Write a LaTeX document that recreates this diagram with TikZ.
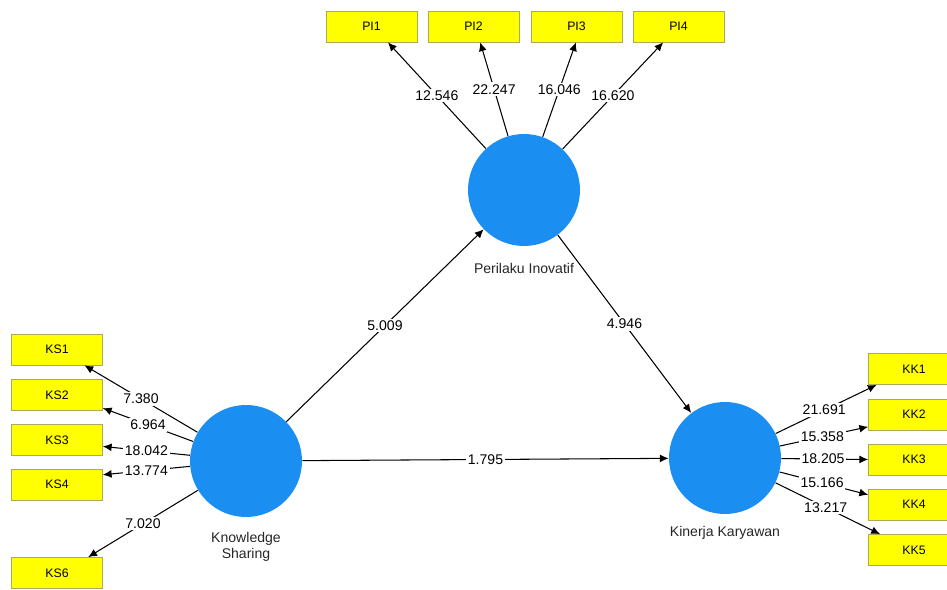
\documentclass[tikz,border=0pt]{standalone}
\usepackage{fontspec}
\setmainfont{Liberation Sans}
\usetikzlibrary{arrows.meta}
\definecolor{lvblue}{RGB}{27,142,242}
\definecolor{indyellow}{RGB}{255,255,0}
\definecolor{indline}{RGB}{170,170,90}

\begin{document}
\begin{tikzpicture}[x=0.02cm, y=-0.02cm,
    lv/.style   = {circle, fill=lvblue, minimum size=2.24cm, inner sep=0pt},
    ind/.style  = {draw=indline, fill=indyellow, minimum width=1.82cm, minimum height=0.62cm, inner sep=0pt, font=\fontsize{7}{8}\selectfont},
    val/.style  = {fill=white, inner sep=1pt, font=\fontsize{8}{9}\selectfont},
    lbl/.style  = {align=center, font=\fontsize{8}{9.5}\selectfont, text=black!85},
    link/.style = {black, line width=0.6pt, -{Latex[length=5pt,width=4.5pt]}}]
    \useasboundingbox (0,0) rectangle (947,590);
    \clip (0,0) rectangle (947,590);
    %
    \node[lv] (pi) at (524,190) {};
    \node[lv] (ks) at (246,461) {};
    \node[lv] (kk) at (725,458) {};
    \node[lbl] at (524,268) {Perilaku Inovatif};
    \node[lbl] at (246,547) {Knowledge\\Sharing};
    \node[lbl] at (725,533) {Kinerja Karyawan};
    %
    \foreach \i/\x in {1/371.5, 2/473.5, 3/576.5, 4/678.5}
      \node[ind] (pi\i) at (\x,26.5) {PI\i};
    \foreach \i/\y in {1/349.5, 2/395, 3/440, 4/484.5, 6/573}
      \node[ind] (ks\i) at (57,\y) {KS\i};
    \foreach \i/\y in {1/369, 2/414.5, 3/459.5, 4/504.5, 5/550}
      \node[ind] (kk\i) at (914,\y) {KK\i};
    %
    \foreach \i/\a/\v in {1/316/12.546, 2/293/22.247, 3/268/16.046, 4/226/16.620}
      \draw[link] (pi) -- (pi\i.\a) node[val, midway] {\v};
    \foreach \i/\a/\v in {1/330/7.380, 2/344/6.964, 3/352/18.042, 4/12/13.774, 6/27/7.020}
      \draw[link] (ks) -- (ks\i.\a) node[val, midway] {\v};
    \foreach \i/\a/\v in {1/203/21.691, 2/195/15.358, 3/180/18.205, 4/168/15.166, 5/155/13.217}
      \draw[link] (kk) -- (kk\i.\a) node[val, pos=0.48] {\v};
    %
    \draw[link] (ks) -- (pi) node[val, midway] {5.009};
    \draw[link] (pi) -- (kk) node[val, midway] {4.946};
    \draw[link] (ks) -- (kk) node[val, midway] {1.795};
\end{tikzpicture}
\end{document}
